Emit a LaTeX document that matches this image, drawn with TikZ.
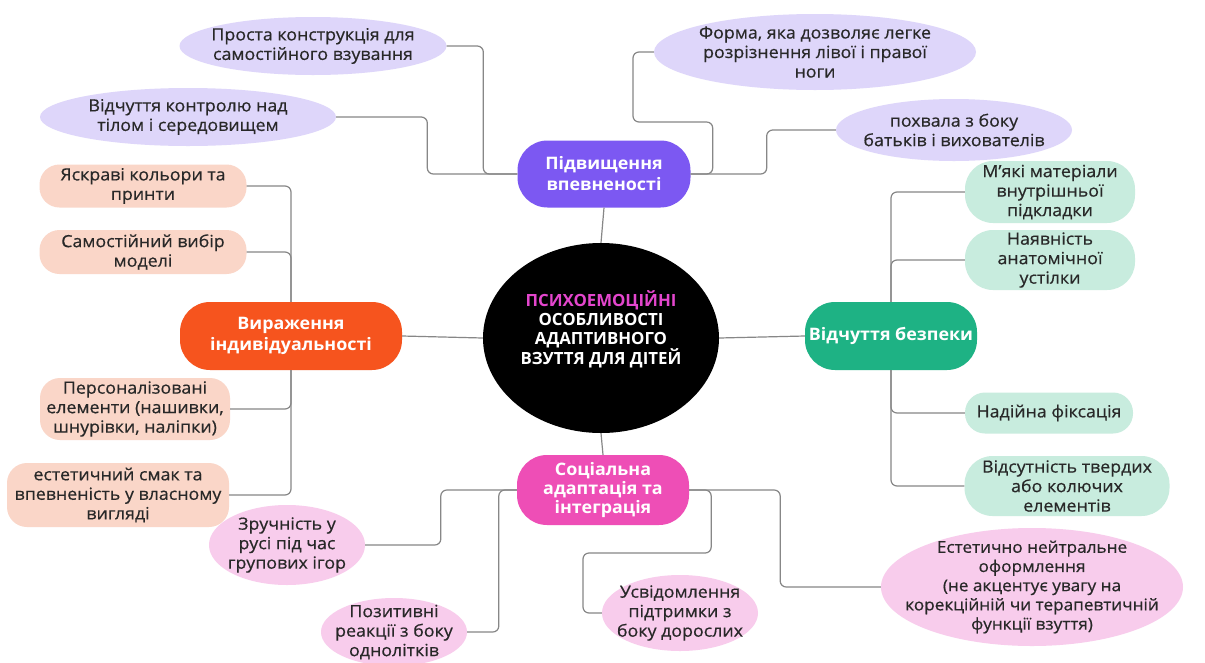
\documentclass[tikz,border=0pt]{standalone}
\usepackage{fontspec}
\setmainfont{Open Sans}
\newfontfamily\leaffont{Open Sans}[FakeBold=0.5,FakeStretch=1.06]
\newfontfamily\hubfont{Open Sans}[FakeStretch=1.04]
\usetikzlibrary{shapes.geometric}
\definecolor{linegray}{RGB}{135,135,135}
\definecolor{textdark}{RGB}{40,40,40}
\definecolor{hubpurple}{RGB}{124,88,242}
\definecolor{leafpurple}{RGB}{222,214,250}
\definecolor{huborange}{RGB}{246,84,30}
\definecolor{leaforange}{RGB}{250,214,200}
\definecolor{hubgreen}{RGB}{30,178,132}
\definecolor{leafgreen}{RGB}{200,236,222}
\definecolor{hubpink}{RGB}{238,78,182}
\definecolor{leafpink}{RGB}{248,204,236}
\definecolor{titlemag}{RGB}{228,70,205}
\begin{document}
\begin{tikzpicture}[x=1pt,y=-1pt,
  conn/.style={draw=linegray, line width=1.2pt, rounded corners=6pt},
  hub/.style={rectangle, rounded corners=30pt, inner sep=0pt, text=white,
    font=\hubfont\fontsize{17.2}{21}\selectfont\bfseries, align=center},
  leafbox/.style={rectangle, rounded corners=20pt, inner sep=0pt, text=textdark,
    font=\leaffont\fontsize{16.8}{19.5}\selectfont, align=center},
  leafell/.style={ellipse, inner sep=0pt},
  ltext/.style={inner sep=0pt, text=textdark,
    font=\leaffont\fontsize{16.8}{19.5}\selectfont, align=center}
]
\useasboundingbox[fill=white] (0,0) rectangle (1205,662);

% centre
\node[ellipse, fill=black, minimum width=236, minimum height=190, inner sep=0pt] (ctr) at (601,338) {};
\node[inner sep=0pt, text=white, align=center, font=\fontsize{16.8}{19}\selectfont\bfseries] (ctrt) at (601,329)
  {{\color{titlemag}ПСИХОЕМОЦІЙНІ}\\ОСОБЛИВОСТІ\\АДАПТИВНОГО\\ВЗУТТЯ ДЛЯ ДІТЕЙ};

% hubs
\node[hub, fill=hubpurple, minimum width=173, minimum height=67] (ph) at (604,174) {Підвищення\\впевненості};
\node[hub, fill=huborange, minimum width=222, minimum height=68] (po) at (291,336) {Вираження\\індивідуальності};
\node[hub, fill=hubgreen, minimum width=172, minimum height=68] (pg) at (891,336) {Відчуття безпеки};
\node[hub, fill=hubpink, minimum width=172, minimum height=70, font=\hubfont\fontsize{17.2}{19}\selectfont\bfseries] (pp) at (603,490) {Соціальна\\адаптація та\\інтеграція};

% purple leaves
\node[leafell, fill=leafpurple, minimum width=267, minimum height=58] (A) at (313,46) {};
\node[ltext] (At) at (A) {Проста конструкція для\\самостійного взування};
\node[leafell, fill=leafpurple, minimum width=296, minimum height=58] (B) at (188,117) {};
\node[ltext] (Bt) at (B) {Відчуття контролю над\\тілом і середовищем};
\node[leafell, fill=leafpurple, minimum width=322, minimum height=76] (C) at (815,52) {};
\node[ltext] (Ct) at (C) {Форма, яка дозволяє легке\\розрізнення лівої і правої\\ноги};
\node[leafell, fill=leafpurple, minimum width=236, minimum height=62] (D) at (954,130) {};
\node[ltext] (Dt) at (D) {похвала з боку\\батьків і вихователів};

% orange leaves
\node[leafbox, fill=leaforange, minimum width=207, minimum height=43] (O1) at (143,186) {Яскраві кольори та\\принти};
\node[leafbox, fill=leaforange, minimum width=207, minimum height=44] (O2) at (143,252) {Самостійний вибір\\моделі};
\node[leafbox, fill=leaforange, minimum width=190, minimum height=62] (O3) at (135,409) {Персоналізовані\\елементи (нашивки,\\шнурівки, наліпки)};
\node[leafbox, fill=leaforange, minimum width=222, minimum height=64] (O4) at (118,495) {естетичний смак та\\впевненість у власному\\вигляді};

% green leaves
\node[leafbox, fill=leafgreen, minimum width=170, minimum height=62, rounded corners=28pt] (G1) at (1050,192) {М’які матеріали\\внутрішньої\\підкладки};
\node[leafbox, fill=leafgreen, minimum width=170, minimum height=60, rounded corners=28pt] (G2) at (1050,260) {Наявність\\анатомічної\\устілки};
\node[leafbox, fill=leafgreen, minimum width=168, minimum height=41] (G3) at (1049,413) {Надійна фіксація};
\node[leafbox, fill=leafgreen, minimum width=205, minimum height=60, rounded corners=28pt] (G4) at (1067,486) {Відсутність твердих\\або колючих\\елементів};

% pink leaves
\node[leafell, fill=leafpink, minimum width=156, minimum height=80] (P1) at (287,545) {};
\node[ltext] (P1t) at (P1) {Зручність у\\русі під час\\групових ігор};
\node[leafell, fill=leafpink, minimum width=146, minimum height=68] (P2) at (394,632) {};
\node[ltext] (P2t) at (P2) {Позитивні\\реакції з боку\\однолітків};
\node[leafell, fill=leafpink, minimum width=156, minimum height=76] (P3) at (680,613) {};
\node[ltext] (P3t) at (P3) {Усвідомлення\\підтримки з\\боку дорослих};
\node[leafell, fill=leafpink, minimum width=302, minimum height=118] (P4) at (1032,587) {};
\node[ltext, font=\leaffont\fontsize{16.2}{19.2}\selectfont] (P4t) at (P4) {Естетично нейтральне\\оформлення\\(не акцентує увагу на\\корекційній чи терапевтичній\\функції взуття)};

% hub to centre
\draw[conn] (ph.south) -- (ctr.north);
\draw[conn] (po.east) -- (ctr.west);
\draw[conn] (ctr.east) -- (pg.west);
\draw[conn] (ctr.south) -- (pp.north);

% purple connectors
\draw[conn] (A.east) -| ([xshift=-34pt]ph.west) -- (ph.west);
\draw[conn] (B.east) -| ([xshift=-90pt]ph.west) -- (ph.west);
\draw[conn] (C.west) -| (633,122) -| ([xshift=22pt]ph.east) -- (ph.east);
\draw[conn] (D.west) -| ([xshift=76pt]ph.east) -- (ph.east);

% orange connectors
\draw[conn] (O1.east) -| (po.north);
\draw[conn] (O2.east) -| (po.north);
\draw[conn] (O3.east) -| (po.south);
\draw[conn] (O4.east) -| (po.south);

% green connectors
\draw[conn] (G1.west) -| (pg.north);
\draw[conn] (G2.west) -| (pg.north);
\draw[conn] (G3.west) -| (pg.south);
\draw[conn] (G4.west) -| (pg.south);

% pink connectors
\draw[conn] (P1.east) -| ([xshift=-76pt]pp.west) -- (pp.west);
\draw[conn] (P2.east) -| ([xshift=-18pt]pp.west) -- (pp.west);
\draw[conn] (P3.west) -| (583,553) -| ([xshift=22pt]pp.east) -- (pp.east);
\draw[conn] (P4.west) -| ([xshift=91pt]pp.east) -- (pp.east);
\end{tikzpicture}
\end{document}
